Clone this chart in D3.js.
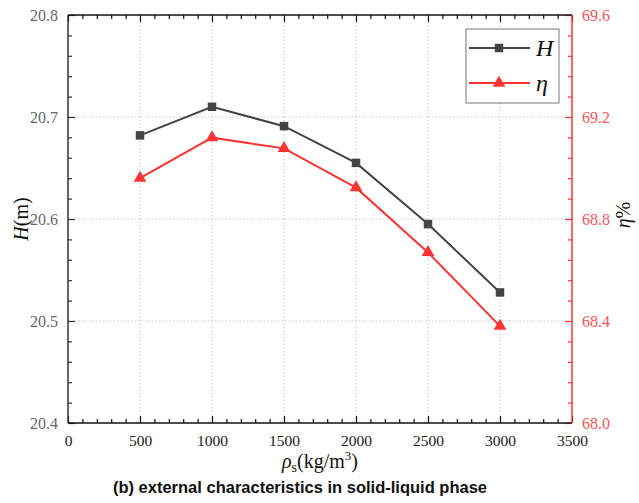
<!DOCTYPE html>
<html>
<head>
<meta charset="utf-8">
<script src="https://cdn.jsdelivr.net/npm/d3@7"></script>
<style>
  body { margin: 0; background: #fff; }
  svg { display: block; }
  .serif { font-family: "Liberation Serif", "Times New Roman", Times, serif; }
</style>
</head>
<body>
<svg id="chart" width="639" height="503"></svg>
<script>
// Solid density (kg/m3) and the measured head / efficiency
const density = [500, 1000, 1500, 2000, 2500, 3000];
const head = [20.682, 20.710, 20.691, 20.655, 20.595, 20.528];
const efficiency = [68.96, 69.119, 69.077, 68.923, 68.669, 68.38];

const xTicks = [0, 500, 1000, 1500, 2000, 2500, 3000, 3500];
const headTicks = [20.4, 20.5, 20.6, 20.7, 20.8];
const effTicks = [68.0, 68.4, 68.8, 69.2, 69.6];

const W = 639, H = 503;
const m = { left: 68, right: 67, top: 15, bottom: 80 };
const iw = W - m.left - m.right, ih = H - m.top - m.bottom;

const grey = "#444444";
const red = "#ff3333";
const serif = "Liberation Serif, Times New Roman, Times, serif";

const svg = d3.select("#chart");
const g = svg.append("g").attr("transform", `translate(${m.left},${m.top})`);

const x = d3.scaleLinear().domain([0, 3500]).range([0, iw]);
const yH = d3.scaleLinear().domain([20.4, 20.8]).range([ih, 0]);
const yE = d3.scaleLinear().domain([68.0, 69.6]).range([ih, 0]);

// dotted grid at interior major ticks
g.append("g").selectAll("line").data(xTicks.filter(d => d > 0 && d < 3500)).join("line")
  .attr("x1", d => x(d)).attr("x2", d => x(d)).attr("y1", 0).attr("y2", ih)
  .attr("stroke", "#c8c8c8").attr("stroke-width", 1).attr("stroke-dasharray", "1.5,2");
g.append("g").selectAll("line").data(headTicks.filter(d => d > 20.4 && d < 20.8)).join("line")
  .attr("y1", d => yH(d)).attr("y2", d => yH(d)).attr("x1", 0).attr("x2", iw)
  .attr("stroke", "#c8c8c8").attr("stroke-width", 1).attr("stroke-dasharray", "1.5,2");

const majorLen = 7, minorLen = 4;

function styleAxis(sel, color, labelColor, size) {
  sel.attr("font-family", serif).attr("font-size", size);
  sel.select(".domain").remove();
  sel.selectAll(".tick line").attr("stroke", color).attr("stroke-width", 1.2);
  sel.selectAll(".tick text").attr("fill", labelColor).attr("class", "serif")
    .style("font-size", size + "px");
}

// bottom axis: minor then major ticks, pointing inward
const xMinor = d3.range(0, 3501, 100).filter(d => d % 500 !== 0);
const bottomMinor = g.append("g").attr("transform", `translate(0,${ih})`)
  .call(d3.axisBottom(x).tickValues(xMinor).tickSize(-minorLen).tickFormat(""));
styleAxis(bottomMinor, "#111", "#111", 16);
const bottom = g.append("g").attr("transform", `translate(0,${ih})`)
  .call(d3.axisBottom(x).tickValues(xTicks).tickSize(-majorLen).tickPadding(12).tickFormat(d3.format("d")));
styleAxis(bottom, "#111", "#222", 15.5);

// top axis: ticks only
const topMinor = g.append("g").call(d3.axisTop(x).tickValues(xMinor).tickSize(-minorLen).tickFormat(""));
styleAxis(topMinor, "#111", "#111", 16);
const topMajor = g.append("g").call(d3.axisTop(x).tickValues(xTicks).tickSize(-majorLen).tickFormat(""));
styleAxis(topMajor, "#111", "#111", 16);

// left axis (head)
const hMinor = d3.range(0, 21).map(i => 20.4 + i * 0.02).filter((d, i) => i % 5 !== 0);
const leftMinor = g.append("g").call(d3.axisLeft(yH).tickValues(hMinor).tickSize(-minorLen).tickFormat(""));
styleAxis(leftMinor, "#333", "#333", 16);
const left = g.append("g").call(d3.axisLeft(yH).tickValues(headTicks).tickSize(-majorLen).tickPadding(10).tickFormat(d3.format(".1f")));
styleAxis(left, "#333", "#666", 16);

// right axis (efficiency)
const eMinor = d3.range(0, 21).map(i => 68.0 + i * 0.08).filter((d, i) => i % 5 !== 0);
const rightMinor = g.append("g").attr("transform", `translate(${iw},0)`)
  .call(d3.axisRight(yE).tickValues(eMinor).tickSize(-minorLen).tickFormat(""));
styleAxis(rightMinor, red, red, 16);
const right = g.append("g").attr("transform", `translate(${iw},0)`)
  .call(d3.axisRight(yE).tickValues(effTicks).tickSize(-majorLen).tickPadding(10).tickFormat(d3.format(".1f")));
styleAxis(right, red, "#ff5555", 16);

// frame lines
g.append("line").attr("x1", 0).attr("x2", 0).attr("y1", 0).attr("y2", ih).attr("stroke", "#333").attr("stroke-width", 1.5);
g.append("line").attr("x1", 0).attr("x2", iw).attr("y1", ih).attr("y2", ih).attr("stroke", "#111").attr("stroke-width", 1.5);
g.append("line").attr("x1", 0).attr("x2", iw).attr("y1", 0).attr("y2", 0).attr("stroke", "#111").attr("stroke-width", 1.5);
g.append("line").attr("x1", iw).attr("x2", iw).attr("y1", 0).attr("y2", ih).attr("stroke", red).attr("stroke-width", 1.5);

// series lines
const headLine = d3.line().x((d, i) => x(density[i])).y(d => yH(d));
const effLine = d3.line().x((d, i) => x(density[i])).y(d => yE(d));

g.append("path").datum(head).attr("d", headLine).attr("fill", "none")
  .attr("stroke", grey).attr("stroke-width", 2);
g.append("path").datum(efficiency).attr("d", effLine).attr("fill", "none")
  .attr("stroke", red).attr("stroke-width", 2);

const sq = d3.symbol().type(d3.symbolSquare).size(72);
const tri = d3.symbol().type(d3.symbolTriangle).size(70);

g.append("g").selectAll("path").data(head).join("path")
  .attr("d", sq).attr("transform", (d, i) => `translate(${x(density[i])},${yH(d)})`)
  .attr("fill", grey);
g.append("g").selectAll("path").data(efficiency).join("path")
  .attr("d", tri).attr("transform", (d, i) => `translate(${x(density[i])},${yE(d)})`)
  .attr("fill", red);

// legend
const lg = svg.append("g").attr("transform", "translate(466,29)");
lg.append("rect").attr("width", 93).attr("height", 74)
  .attr("fill", "#fff").attr("stroke", "#777").attr("stroke-width", 1);
const legendItems = [
  { name: "H", color: grey, sym: sq, y: 19 },
  { name: "η", color: red, sym: tri, y: 54 }
];
legendItems.forEach(it => {
  lg.append("line").attr("x1", 3).attr("x2", 64).attr("y1", it.y).attr("y2", it.y)
    .attr("stroke", it.color).attr("stroke-width", 2);
  lg.append("path").attr("d", it.sym).attr("transform", `translate(33,${it.y})`).attr("fill", it.color);
  lg.append("text").attr("class", "serif").attr("x", 70).attr("y", it.y + 8).text(it.name)
    .style("font-style", "italic").style("font-size", "24px").attr("fill", "#111");
});

// axis titles
const yl = svg.append("text").attr("class", "serif").attr("transform", "translate(28,219) rotate(-90)")
  .attr("text-anchor", "middle").style("font-size", "20px").attr("fill", "#111");
yl.append("tspan").style("font-style", "italic").text("H");
yl.append("tspan").text("(m)");

const yr = svg.append("text").attr("class", "serif").attr("transform", "translate(630,215) rotate(-90)")
  .attr("text-anchor", "middle").style("font-size", "20px").attr("fill", "#111");
yr.append("tspan").style("font-style", "italic").text("η");
yr.append("tspan").text("%");

const xl = svg.append("text").attr("class", "serif").attr("x", 320).attr("y", 468)
  .attr("text-anchor", "middle").style("font-size", "20px").attr("fill", "#111");
xl.append("tspan").style("font-style", "italic").text("ρ");
xl.append("tspan").attr("dy", 4).style("font-size", "14px").text("s");
xl.append("tspan").attr("dy", -4).text("(kg/m");
xl.append("tspan").attr("dy", -8).style("font-size", "13px").text("3");
xl.append("tspan").attr("dy", 8).text(")");

svg.append("text").attr("x", 300).attr("y", 493).attr("text-anchor", "middle")
  .style("font-family", "'Liberation Sans', Arial, sans-serif").style("font-weight", "bold")
  .style("font-size", "16.5px").attr("fill", "#111")
  .text("(b) external characteristics in solid-liquid phase");
</script>
</body>
</html>
